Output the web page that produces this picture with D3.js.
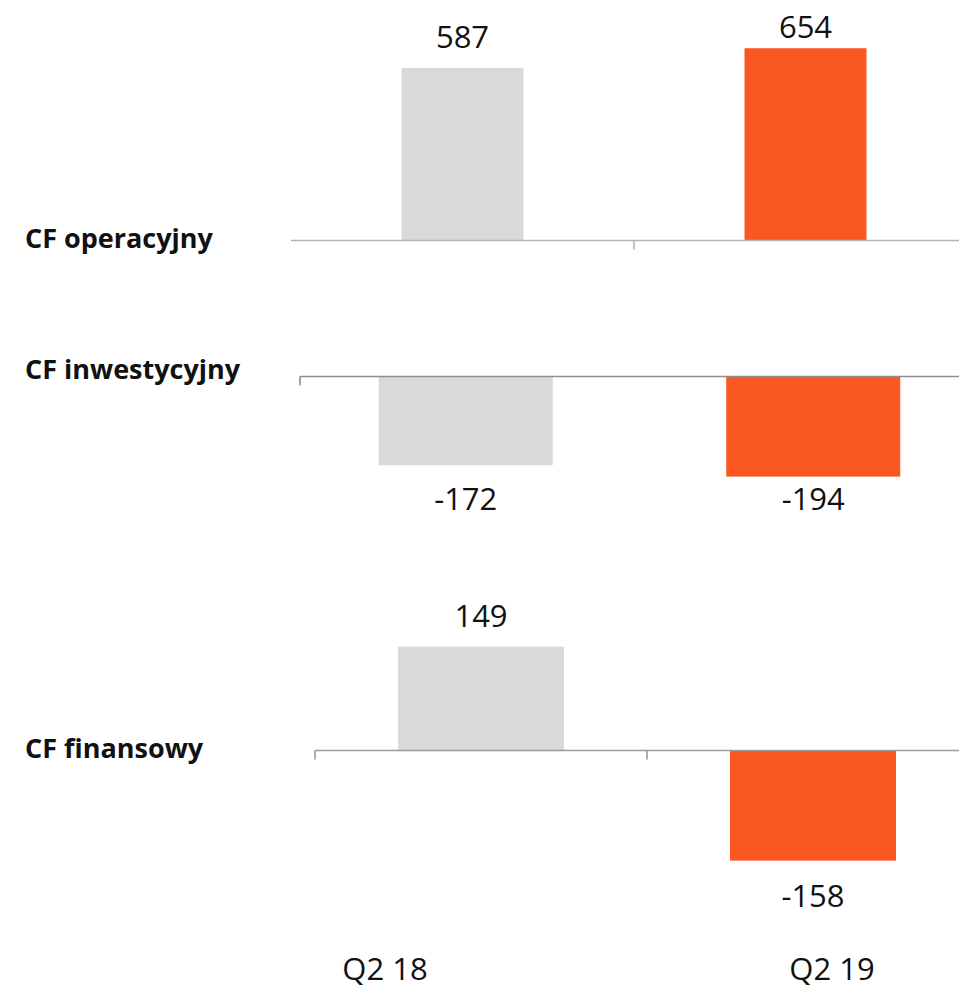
<!DOCTYPE html>
<html>
<head>
<meta charset="utf-8">
<script src="https://cdn.jsdelivr.net/npm/d3@7"></script>
<style>
  html, body { margin: 0; padding: 0; background: #fff; overflow: hidden; }
  svg { display: block; }
</style>
</head>
<body>
<svg id="chart" width="959" height="989"></svg>
<script>
// Cash-flow comparison, Q2 18 vs Q2 19 (mln zł)
const categories = ["Q2 18", "Q2 19"];
const rowNames = ["CF operacyjny", "CF inwestycyjny", "CF finansowy"];
const cfOperacyjny = [587, 654];
const cfInwestycyjny = [-172, -194];
const cfFinansowy = [149, -158];
const seriesColors = ["#d9d9d9", "#fa5722"];

const series = [cfOperacyjny, cfInwestycyjny, cfFinansowy];

// Panel geometry: each row is its own small bar chart with its own zero line
const panels = [
  { base: 240.5, pxPerUnit: 0.294, band: [291, 977], barW: 122, axisFrom: 291, ticks: [1],
    axisColor: "#b4b4b4", labelMin: 38, labelMax: 989, title: { x: 25, y: 248 } },
  { base: 376.5, pxPerUnit: 0.516, band: [292, 987], barW: 174, axisFrom: 300, ticks: [0],
    axisColor: "#8e8e8e", labelMin: 0, labelMax: 510, title: { x: 25, y: 379 } },
  { base: 750.5, pxPerUnit: 0.697, band: [315, 979], barW: 166, axisFrom: 315, ticks: [0, 1],
    axisColor: "#9a9a9a", labelMin: 0, labelMax: 989, title: { x: 25, y: 758 } }
];

const svg = d3.select("#chart");
const FONT = "'Open Sans', 'Segoe UI', 'DejaVu Sans', sans-serif";

panels.forEach((p, i) => {
  const values = series[i];
  const x = d3.scaleBand().domain(categories).range(p.band).padding(0);
  const y = d3.scaleLinear().domain([0, 100]).range([p.base, p.base - 100 * p.pxPerUnit]);
  const g = svg.append("g");

  // bars
  g.selectAll("rect.bar")
    .data(values)
    .join("rect")
    .attr("class", "bar")
    .attr("x", (d, j) => x(categories[j]) + x.bandwidth() / 2 - p.barW / 2)
    .attr("width", p.barW)
    .attr("y", d => Math.min(y(d), y(0)))
    .attr("height", d => Math.abs(y(d) - y(0)))
    .attr("fill", (d, j) => seriesColors[j]);

  // zero line with category boundary ticks (the first one sits where the line starts)
  g.append("line")
    .attr("x1", p.axisFrom).attr("x2", 959)
    .attr("y1", y(0)).attr("y2", y(0))
    .attr("stroke", p.axisColor).attr("stroke-width", 1.6);
  const boundaries = p.ticks.map(k => k === 0 ? p.axisFrom : p.band[0] + k * x.step());
  g.selectAll("line.tick")
    .data(boundaries)
    .join("line")
    .attr("class", "tick")
    .attr("x1", d => d).attr("x2", d => d)
    .attr("y1", y(0)).attr("y2", y(0) + 9)
    .attr("stroke", p.axisColor).attr("stroke-width", 1.6);

  // value labels outside the bar ends
  g.selectAll("text.val")
    .data(values)
    .join("text")
    .attr("class", "val")
    .attr("x", (d, j) => x(categories[j]) + x.bandwidth() / 2)
    .attr("y", d => {
      const yy = d >= 0 ? y(d) - 20 : y(d) + 46;
      return Math.max(p.labelMin, Math.min(p.labelMax, yy));
    })
    .attr("text-anchor", "middle")
    .attr("font-family", FONT)
    .attr("font-size", 31)
    .attr("fill", "#111")
    .text(d => d);

  // row title
  svg.append("text")
    .attr("x", p.title.x).attr("y", p.title.y)
    .attr("font-family", FONT)
    .attr("font-weight", "bold")
    .attr("font-size", 27)
    .attr("fill", "#111")
    .text(rowNames[i]);
});

// category labels along the bottom
const xCat = d3.scalePoint().domain(categories).range([385, 832]);
svg.selectAll("text.cat")
  .data(categories)
  .join("text")
  .attr("class", "cat")
  .attr("x", d => xCat(d))
  .attr("y", 980)
  .attr("text-anchor", "middle")
  .attr("font-family", FONT)
  .attr("font-size", 31)
  .attr("fill", "#111")
  .text(d => d);
</script>
</body>
</html>
